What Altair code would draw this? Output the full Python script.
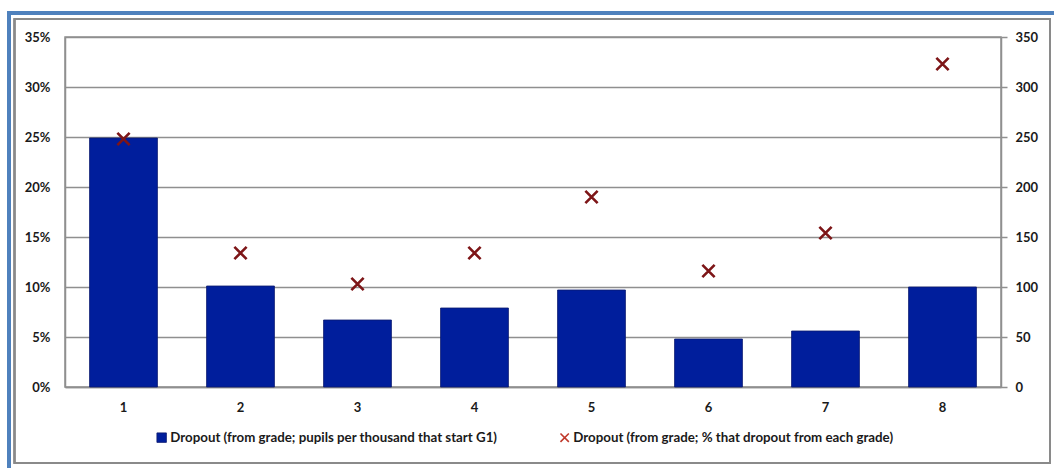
import altair as alt
import pandas as pd

# Grades and the two dropout measures
grades = [1, 2, 3, 4, 5, 6, 7, 8]
pupils_per_thousand = [249, 101, 67, 79, 97, 48, 56, 100]
pct_dropout = [0.248, 0.134, 0.103, 0.134, 0.190, 0.116, 0.154, 0.323]

bar_label = "Dropout (from grade; pupils per thousand that start G1)"
pct_label = "Dropout (from grade; % that dropout from each grade)"

pct_ticks = [0, 0.05, 0.10, 0.15, 0.20, 0.25, 0.30, 0.35]
count_ticks = [0, 50, 100, 150, 200, 250, 300, 350]

df = pd.DataFrame({
    "grade": grades,
    "pupils": pupils_per_thousand,
    "pct": pct_dropout,
    "bar_series": [bar_label] * len(grades),
    "pct_series": [pct_label] * len(grades),
})

FONT = "Lato"
FS = 13
LFS = 13.3
TEXT = "#1a1a1a"
GRID = "#8f8f8f"
BAR_BLUE = "#001e9c"
CROSS_RED = "#7d1517"
X_PATH = "M-1,-1L1,1M-1,1L1,-1"

x_enc = alt.X(
    "grade:O",
    scale=alt.Scale(paddingInner=0.42, paddingOuter=0.21),
    axis=alt.Axis(
        title=None, labelAngle=0, ticks=False, labelPadding=14,
        domainColor=GRID, domainWidth=1.5,
        labelFont=FONT, labelFontSize=FS, labelFontWeight="bold", labelColor=TEXT,
    ),
)

bars = alt.Chart(df).mark_bar(stroke="#0b1a70", strokeWidth=0.8).encode(
    x=x_enc,
    y=alt.Y(
        "pupils:Q",
        scale=alt.Scale(domain=[0, 350], nice=False),
        axis=alt.Axis(
            orient="right", title=None, values=count_ticks, grid=False,
            tickSize=6, tickColor=GRID, tickWidth=1.5,
            domainColor=GRID, domainWidth=1.5, labelPadding=8,
            labelFont=FONT, labelFontSize=FS, labelFontWeight="bold", labelColor=TEXT,
        ),
    ),
    color=alt.Color(
        "bar_series:N",
        scale=alt.Scale(domain=[bar_label], range=[BAR_BLUE]),
        legend=alt.Legend(
            orient="none", legendX=90, legendY=394, title=None,
            symbolType="square", symbolSize=90, symbolStrokeColor="#0b1a70",
            symbolStrokeWidth=0.8, labelOffset=2, padding=0, labelLimit=600,
            labelFont=FONT, labelFontSize=LFS, labelFontWeight="bold", labelColor=TEXT,
        ),
    ),
)

crosses = alt.Chart(df).mark_point(
    filled=False, color=CROSS_RED, strokeWidth=2.6, size=150, opacity=1
).encode(
    x=x_enc,
    y=alt.Y(
        "pct:Q",
        scale=alt.Scale(domain=[0, 0.35], nice=False),
        axis=alt.Axis(
            orient="left", title=None, values=pct_ticks, format=".0%",
            grid=True, gridColor=GRID, gridWidth=1.5, ticks=False,
            domainColor=GRID, domainWidth=1.5, labelPadding=15,
            labelFont=FONT, labelFontSize=FS, labelFontWeight="bold", labelColor=TEXT,
        ),
    ),
    shape=alt.Shape(
        "pct_series:N",
        scale=alt.Scale(domain=[pct_label], range=[X_PATH]),
        legend=alt.Legend(
            orient="none", legendX=493, legendY=394, title=None,
            symbolSize=70, symbolStrokeColor="#c0392b", symbolStrokeWidth=1.6,
            symbolFillColor="transparent", labelOffset=2, padding=0, labelLimit=600,
            labelFont=FONT, labelFontSize=LFS, labelFontWeight="bold", labelColor=TEXT,
        ),
    ),
)

# Decorative frames around the whole figure
blue_frame = alt.Chart(df).mark_rect(
    filled=False, stroke="#4f81bd", strokeWidth=3.5
).encode(
    x=alt.value(-56), x2=alt.value(1010), y=alt.value(-24), y2=alt.value(460)
)
gray_frame = alt.Chart(df).mark_rect(
    filled=False, stroke="#8a8a8a", strokeWidth=1.5
).encode(
    x=alt.value(-50.5), x2=alt.value(985), y=alt.value(-18), y2=alt.value(426)
)

chart = (
    alt.layer(blue_frame, gray_frame, bars, crosses)
    .resolve_scale(y="independent", color="independent", shape="independent")
    .resolve_legend(color="independent", shape="independent")
    .properties(
        width=936, height=350,
        autosize=alt.AutoSizeParams(type="none"),
        padding={"left": 65, "top": 37, "right": 53, "bottom": 81},
        background="white",
    )
    .configure_view(stroke=GRID, strokeWidth=1.5)
)

chart.save("out.html", embed_options={"renderer": "svg", "actions": False})
